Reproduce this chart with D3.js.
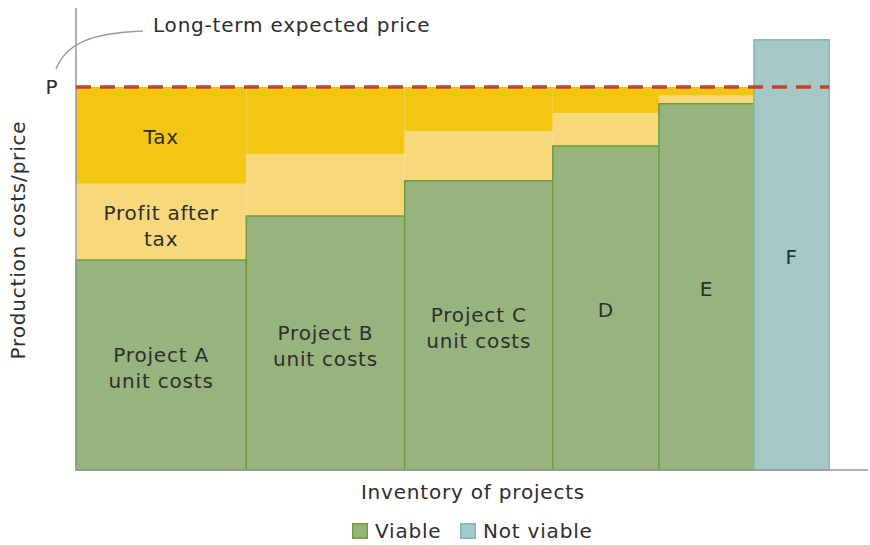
<!DOCTYPE html>
<html lang="en">
<head>
<meta charset="UTF-8">
<title>Project inventory</title>
<script src="https://d3js.org/d3.v7.min.js"></script>
<style>
    body { margin: 0; background: #fff; }
    svg { display: block; font-family: "DejaVu Sans", sans-serif; letter-spacing: 0.8px; }
</style>
</head>
<body>
<svg id="chart" width="870" height="545"></svg>
<script>
// projects along the inventory axis (width = quantity)
const projects = ["A", "B", "C", "D", "E", "F"];
const widths = [21.5, 20, 18.7, 13.4, 12, 9.5];
const unitCosts = [54.8, 66.3, 75.5, 84.6, 95.6, 112.3];
const profitTops = [74.7, 82.5, 88.5, 93.2, 97.7, null];
const viable = [true, true, true, true, true, false];
const price = 100;
const barLabels = [["Project A", "unit costs"], ["Project B", "unit costs"], ["Project C", "unit costs"], ["D"], ["E"], ["F"]];
const labelY = [30.0, 35.8, 40.5, 41.8, 47.3, 55.6];

const svg = d3.select("#chart");
const x = d3.scaleLinear().domain([0, 100]).range([76, 868]);
const y = d3.scaleLinear().domain([0, 120.6]).range([470, 8]);

let acc = 0;
const rows = projects.map((p, i) => {
    const r = { p, x0: acc, x1: acc + widths[i], cost: unitCosts[i], profit: profitTops[i], viable: viable[i], lines: barLabels[i] };
    acc += widths[i];
    return r;
});
const ok = rows.filter(d => d.viable);

// tax band
svg.append("g").selectAll("rect").data(ok).join("rect")
    .attr("x", d => x(d.x0)).attr("width", d => x(d.x1) - x(d.x0))
    .attr("y", y(price)).attr("height", d => y(d.profit) - y(price))
    .attr("fill", "#f3c614");

// profit after tax band
svg.append("g").selectAll("rect").data(ok).join("rect")
    .attr("x", d => x(d.x0)).attr("width", d => x(d.x1) - x(d.x0))
    .attr("y", d => y(d.profit)).attr("height", d => y(d.cost) - y(d.profit))
    .attr("fill", "#f7d97b");

// unit cost bars
svg.append("g").selectAll("rect").data(rows).join("rect")
    .attr("x", d => x(d.x0)).attr("width", d => x(d.x1) - x(d.x0))
    .attr("y", d => y(d.cost)).attr("height", d => y(0) - y(d.cost))
    .attr("fill", d => d.viable ? "#98b47e" : "#a6c8c7")
    .attr("stroke", d => d.viable ? "#6a9e45" : "#80b8b3")
    .attr("stroke-width", 1.5);

// axes
svg.append("line").attr("x1", x(0)).attr("x2", x(0)).attr("y1", y(120.6)).attr("y2", y(0))
    .attr("stroke", "#999").attr("stroke-width", 1.5);
svg.append("line").attr("x1", x(0)).attr("x2", x(100)).attr("y1", y(0)).attr("y2", y(0))
    .attr("stroke", "#999").attr("stroke-width", 1.5);

// long-term price line
svg.append("line").attr("x1", x(0)).attr("x2", x(rows[5].x1)).attr("y1", y(price)).attr("y2", y(price))
    .attr("stroke", "#c0452a").attr("stroke-width", 3.5).attr("stroke-dasharray", "15,9");

const txt = "#2e2e2e";
const fs = 20;
svg.append("text").attr("x", 52).attr("y", y(price)).attr("dy", "0.35em")
    .attr("text-anchor", "middle").attr("font-size", fs).attr("fill", txt).text("P");
svg.append("path").attr("d", "M56,69 C66,44 90,33 143,31")
    .attr("fill", "none").attr("stroke", "#999").attr("stroke-width", 1.3);
svg.append("text").attr("x", 153).attr("y", 25).attr("dy", "0.35em")
    .attr("font-size", fs).attr("fill", txt).text("Long-term expected price");

// multi-line centred label helper
function label(cx, cy, lines) {
    const t = svg.append("text").attr("y", cy)
        .attr("text-anchor", "middle").attr("font-size", fs).attr("fill", txt);
    lines.forEach((l, j) => t.append("tspan").attr("x", cx).attr("dy", j ? "26" : "0.35em").text(l));
}

// band labels inside project A
const ax = (x(rows[0].x0) + x(rows[0].x1)) / 2;
label(ax, 137, ["Tax"]);
label(ax, 213, ["Profit after", "tax"]);

// bar labels
rows.forEach((d, i) => label((x(d.x0) + x(d.x1)) / 2, y(labelY[i]), d.lines));

// axis titles
svg.append("text").attr("transform", "translate(18,240) rotate(-90)").attr("dy", "0.35em")
    .attr("text-anchor", "middle").attr("font-size", fs).attr("fill", txt).text("Production costs/price");
svg.append("text").attr("x", 473).attr("y", 492).attr("dy", "0.35em")
    .attr("text-anchor", "middle").attr("font-size", fs).attr("fill", txt).text("Inventory of projects");

// legend
const legend = [{ name: "Viable", fill: "#98b47e", stroke: "#6a9e45", x: 352 }, { name: "Not viable", fill: "#a6c8c7", stroke: "#80b8b3", x: 460 }];
const lg = svg.append("g").selectAll("g").data(legend).join("g")
    .attr("transform", d => `translate(${d.x},531)`);
lg.append("rect").attr("x", 0.75).attr("y", -7.25).attr("width", 14.5).attr("height", 14.5)
    .attr("fill", d => d.fill).attr("stroke", d => d.stroke).attr("stroke-width", 1.5);
lg.append("text").attr("x", 23).attr("dy", "0.35em").attr("font-size", fs).attr("fill", txt).text(d => d.name);
</script>
</body>
</html>
